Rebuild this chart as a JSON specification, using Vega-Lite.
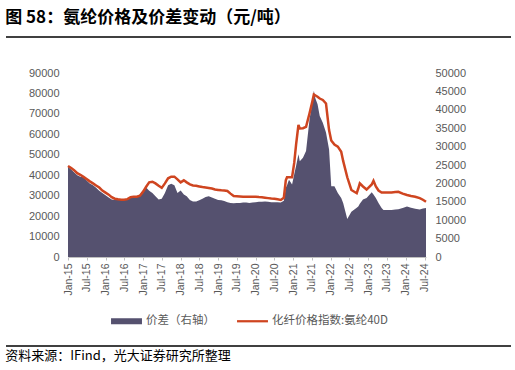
{
  "$schema": "https://vega.github.io/schema/vega-lite/v6.json",
  "padding": {"top": 9, "left": 5, "right": 5, "bottom": 3},
  "background": "#ffffff",
  "config": {
    "view": {"stroke": null},
    "font": "Liberation Sans",
    "axis": {"grid": false, "labelColor": "#595959", "title": null}
  },
  "title": {
    "text": "图 58：氨纶价格及价差变动（元/吨）",
    "anchor": "start",
    "font": "Noto Sans CJK SC",
    "fontSize": 17,
    "fontWeight": "bold",
    "color": "#000000",
    "offset": 9
  },
  "spacing": 15,
  "resolve": {"scale": {"color": "independent"}, "legend": {"color": "independent"}},
  "vconcat": [
    {
      "width": 443,
      "height": 15,
      "data": {"values": [{"a": -0.14, "b": 1, "v": 1}]},
      "mark": {"type": "rule", "color": "#000000", "strokeWidth": 1.5, "clip": false},
      "encoding": {
        "x": {"field": "a", "type": "quantitative", "scale": {"domain": [0, 1], "nice": false}, "axis": null},
        "x2": {"field": "b"},
        "y": {"field": "v", "type": "quantitative", "scale": {"domain": [0, 1]}, "axis": null}
      }
    },
    {
      "width": 358,
      "height": 184,
      "data": {
        "values": [
          {"d": "2015/01/01", "price": 44500, "spread": 24500},
          {"d": "2015/02/01", "price": 43500, "spread": 23800},
          {"d": "2015/03/01", "price": 42500, "spread": 23000},
          {"d": "2015/04/01", "price": 41000, "spread": 22200},
          {"d": "2015/05/01", "price": 40200, "spread": 21800},
          {"d": "2015/06/01", "price": 39200, "spread": 21900},
          {"d": "2015/07/01", "price": 38200, "spread": 20800},
          {"d": "2015/08/01", "price": 37000, "spread": 20000},
          {"d": "2015/09/01", "price": 36000, "spread": 19500},
          {"d": "2015/10/01", "price": 35000, "spread": 18800},
          {"d": "2015/11/01", "price": 34000, "spread": 18000},
          {"d": "2015/12/01", "price": 32500, "spread": 17400},
          {"d": "2016/01/01", "price": 31500, "spread": 16800},
          {"d": "2016/02/01", "price": 30500, "spread": 16200},
          {"d": "2016/03/01", "price": 29300, "spread": 15600},
          {"d": "2016/04/01", "price": 28500, "spread": 15500},
          {"d": "2016/05/01", "price": 28200, "spread": 15500},
          {"d": "2016/06/01", "price": 28000, "spread": 15600},
          {"d": "2016/07/01", "price": 28000, "spread": 15600},
          {"d": "2016/08/01", "price": 28300, "spread": 15800},
          {"d": "2016/09/01", "price": 29300, "spread": 16200},
          {"d": "2016/10/01", "price": 29500, "spread": 16500},
          {"d": "2016/11/01", "price": 29500, "spread": 16500},
          {"d": "2016/12/01", "price": 30000, "spread": 17000},
          {"d": "2017/01/01", "price": 32000, "spread": 18000},
          {"d": "2017/02/01", "price": 34500, "spread": 18800},
          {"d": "2017/03/01", "price": 36500, "spread": 18000},
          {"d": "2017/04/01", "price": 36800, "spread": 17400},
          {"d": "2017/05/01", "price": 36000, "spread": 16500},
          {"d": "2017/06/01", "price": 34800, "spread": 15600},
          {"d": "2017/07/01", "price": 33800, "spread": 15800},
          {"d": "2017/08/01", "price": 36000, "spread": 17400},
          {"d": "2017/09/01", "price": 38500, "spread": 19500},
          {"d": "2017/10/01", "price": 39300, "spread": 19900},
          {"d": "2017/11/01", "price": 39300, "spread": 19500},
          {"d": "2017/12/01", "price": 38000, "spread": 17400},
          {"d": "2018/01/01", "price": 36500, "spread": 18100},
          {"d": "2018/02/01", "price": 37500, "spread": 17000},
          {"d": "2018/03/01", "price": 36500, "spread": 16500},
          {"d": "2018/04/01", "price": 35500, "spread": 15500},
          {"d": "2018/05/01", "price": 35000, "spread": 15100},
          {"d": "2018/06/01", "price": 34800, "spread": 15100},
          {"d": "2018/07/01", "price": 34500, "spread": 15400},
          {"d": "2018/08/01", "price": 34200, "spread": 15800},
          {"d": "2018/09/01", "price": 34000, "spread": 16300},
          {"d": "2018/10/01", "price": 33800, "spread": 16500},
          {"d": "2018/11/01", "price": 33500, "spread": 16200},
          {"d": "2018/12/01", "price": 33000, "spread": 15800},
          {"d": "2019/01/01", "price": 32800, "spread": 15500},
          {"d": "2019/02/01", "price": 32600, "spread": 15400},
          {"d": "2019/03/01", "price": 32500, "spread": 15200},
          {"d": "2019/04/01", "price": 32300, "spread": 14900},
          {"d": "2019/05/01", "price": 31000, "spread": 14700},
          {"d": "2019/06/01", "price": 29800, "spread": 14600},
          {"d": "2019/07/01", "price": 29700, "spread": 14700},
          {"d": "2019/08/01", "price": 29600, "spread": 14700},
          {"d": "2019/09/01", "price": 29500, "spread": 14800},
          {"d": "2019/10/01", "price": 29500, "spread": 14800},
          {"d": "2019/11/01", "price": 29500, "spread": 14700},
          {"d": "2019/12/01", "price": 29500, "spread": 14800},
          {"d": "2020/01/01", "price": 29500, "spread": 14900},
          {"d": "2020/02/01", "price": 29300, "spread": 15000},
          {"d": "2020/03/01", "price": 29200, "spread": 15000},
          {"d": "2020/04/01", "price": 29000, "spread": 15100},
          {"d": "2020/05/01", "price": 28800, "spread": 15000},
          {"d": "2020/06/01", "price": 28600, "spread": 14900},
          {"d": "2020/07/01", "price": 28500, "spread": 14900},
          {"d": "2020/08/01", "price": 28200, "spread": 14900},
          {"d": "2020/09/01", "price": 27900, "spread": 14800},
          {"d": "2020/10/01", "price": 29000, "spread": 15300},
          {"d": "2020/10/20", "price": 37500, "spread": 18800},
          {"d": "2020/11/01", "price": 39000, "spread": 19500},
          {"d": "2020/11/20", "price": 39000, "spread": 21000},
          {"d": "2020/12/20", "price": 39000, "spread": 19700},
          {"d": "2021/01/10", "price": 46000, "spread": 22500},
          {"d": "2021/01/28", "price": 55000, "spread": 24700},
          {"d": "2021/02/20", "price": 64600, "spread": 27900},
          {"d": "2021/03/05", "price": 62900, "spread": 26000},
          {"d": "2021/04/05", "price": 63000, "spread": 27000},
          {"d": "2021/05/05", "price": 63700, "spread": 28800},
          {"d": "2021/06/08", "price": 70300, "spread": 37400},
          {"d": "2021/07/05", "price": 76000, "spread": 42000},
          {"d": "2021/07/20", "price": 79500, "spread": 45200},
          {"d": "2021/08/05", "price": 79000, "spread": 43000},
          {"d": "2021/08/25", "price": 78400, "spread": 41500},
          {"d": "2021/09/15", "price": 77500, "spread": 38300},
          {"d": "2021/10/15", "price": 76800, "spread": 36500},
          {"d": "2021/11/15", "price": 75100, "spread": 33800},
          {"d": "2021/12/15", "price": 62100, "spread": 29200},
          {"d": "2022/01/05", "price": 57000, "spread": 19200},
          {"d": "2022/02/05", "price": 55000, "spread": 19200},
          {"d": "2022/03/10", "price": 54000, "spread": 17400},
          {"d": "2022/04/12", "price": 51500, "spread": 16000},
          {"d": "2022/05/01", "price": 47000, "spread": 14700},
          {"d": "2022/06/10", "price": 39000, "spread": 10300},
          {"d": "2022/07/20", "price": 32800, "spread": 12300},
          {"d": "2022/09/10", "price": 31200, "spread": 13400},
          {"d": "2022/09/25", "price": 33500, "spread": 13700},
          {"d": "2022/10/10", "price": 36000, "spread": 14500},
          {"d": "2022/11/10", "price": 34500, "spread": 15600},
          {"d": "2022/12/15", "price": 33000, "spread": 16000},
          {"d": "2023/02/03", "price": 35500, "spread": 17600},
          {"d": "2023/02/20", "price": 37300, "spread": 17000},
          {"d": "2023/03/15", "price": 34500, "spread": 16000},
          {"d": "2023/04/10", "price": 32500, "spread": 14700},
          {"d": "2023/05/10", "price": 31500, "spread": 13300},
          {"d": "2023/05/28", "price": 31500, "spread": 12800},
          {"d": "2023/07/01", "price": 31600, "spread": 12800},
          {"d": "2023/08/15", "price": 31600, "spread": 12800},
          {"d": "2023/09/20", "price": 31800, "spread": 12900},
          {"d": "2023/10/20", "price": 31900, "spread": 13000},
          {"d": "2023/12/01", "price": 31000, "spread": 13300},
          {"d": "2024/01/12", "price": 30300, "spread": 13700},
          {"d": "2024/02/20", "price": 29800, "spread": 13400},
          {"d": "2024/04/01", "price": 29500, "spread": 13100},
          {"d": "2024/05/15", "price": 28800, "spread": 12900},
          {"d": "2024/06/15", "price": 28000, "spread": 13200},
          {"d": "2024/07/15", "price": 27000, "spread": 13300}
        ]
      },
      "encoding": {
        "x": {
          "field": "d",
          "type": "temporal",
          "scale": {"domain": [{"year": 2015, "month": 1, "date": 1}, {"year": 2024, "month": 7, "date": 15}]},
          "axis": {
            "format": "%b-%y",
            "labelAngle": 270,
            "tickCount": {"interval": "month", "step": 6},
            "labelFontSize": 10.5,
            "labelPadding": 3,
            "labelOverlap": false,
            "labelFlush": false,
            "domainColor": "#bfbfbf",
            "tickColor": "#bfbfbf",
            "tickSize": 3
          }
        }
      },
      "layer": [
        {
          "mark": {"type": "area", "interpolate": "linear"},
          "encoding": {
            "y": {
              "field": "spread",
              "type": "quantitative",
              "scale": {"domain": [0, 50000], "nice": false},
              "axis": {
                "orient": "right",
                "values": [0, 5000, 10000, 15000, 20000, 25000, 30000, 35000, 40000, 45000, 50000],
                "format": "d",
                "domain": false,
                "ticks": false,
                "labelFontSize": 11,
                "labelPadding": 9
              }
            },
            "color": {
              "datum": "价差（右轴）",
              "type": "nominal",
              "scale": {"domain": ["价差（右轴）", "化纤价格指数:氨纶40D"], "range": ["#55516f", "#cf4520"]},
              "legend": {
                "orient": "none",
                "legendX": 43,
                "legendY": 241,
                "padding": 0,
                "direction": "horizontal",
                "title": null,
                "labelFont": "Noto Sans CJK SC",
                "labelFontSize": 11.5,
                "labelColor": "#595959",
                "labelOffset": 21,
                "columnPadding": 22,
                "symbolSize": 196,
                "encode": {
                  "symbols": {
                    "update": {
                      "shape": {"signal": "datum.value === '价差（右轴）' ? 'M-2.21,-0.43H2.21V0.43H-2.21Z' : 'M-2.21,-0.16H2.21V0.16H-2.21Z'"},
                      "fill": {"signal": "datum.value === '价差（右轴）' ? '#55516f' : '#cf4520'"},
                      "stroke": {"value": "transparent"},
                      "strokeWidth": {"value": 0},
                      "opacity": {"value": 1},
                      "fillOpacity": {"value": 1},
                      "size": {"value": 196},
                      "x": {"value": 15.5}
                    }
                  }
                }
              }
            }
          }
        },
        {
          "mark": {"type": "line", "strokeWidth": 2.5, "interpolate": "linear"},
          "encoding": {
            "y": {
              "field": "price",
              "type": "quantitative",
              "scale": {"domain": [0, 90000], "nice": false},
              "axis": {
                "orient": "left",
                "values": [0, 10000, 20000, 30000, 40000, 50000, 60000, 70000, 80000, 90000],
                "format": "d",
                "domain": false,
                "ticks": false,
                "labelFontSize": 11,
                "labelPadding": 9,
                "minExtent": 62
              }
            },
            "color": {"datum": "化纤价格指数:氨纶40D", "type": "nominal"}
          }
        }
      ],
      "resolve": {"scale": {"y": "independent"}}
    },
    {
      "width": 443,
      "height": 8,
      "data": {"values": [{"a": -0.14, "b": 1, "v": 0.5}]},
      "mark": {"type": "rule", "color": "#000000", "strokeWidth": 1.5, "clip": false},
      "encoding": {
        "x": {"field": "a", "type": "quantitative", "scale": {"domain": [0, 1], "nice": false}, "axis": null},
        "x2": {"field": "b"},
        "y": {"field": "v", "type": "quantitative", "scale": {"domain": [0, 1]}, "axis": null}
      },
      "title": {
        "text": "资料来源：IFind，光大证券研究所整理",
        "orient": "bottom",
        "anchor": "start",
        "frame": "bounds",
        "font": "Noto Sans CJK SC",
        "fontSize": 13,
        "fontWeight": "normal",
        "color": "#000000",
        "offset": 0
      }
    }
  ]
}
